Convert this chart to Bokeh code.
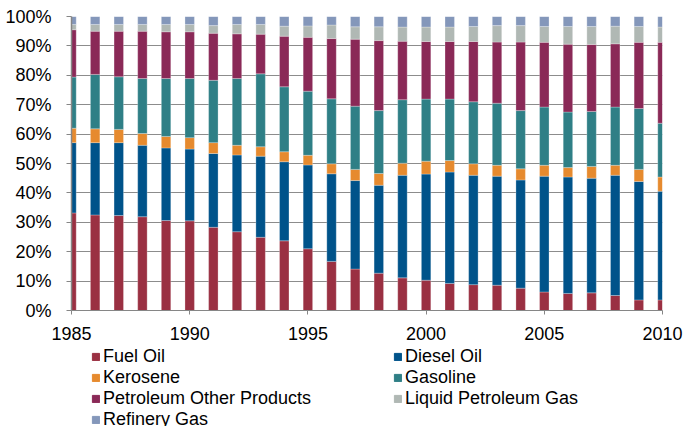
from bokeh.plotting import figure
from bokeh.layouts import column
from bokeh.models import (ColumnDataSource, Range1d, FixedTicker, NumeralTickFormatter,
                          Legend, LegendItem)
from bokeh.embed import file_html
from bokeh.resources import INLINE

years = list(range(1985, 2011))
tick_years = [1985, 1990, 1995, 2000, 2005, 2010]
tick_labels = ["1985", "1990", "1995", "2000", "2005", "2010"]

series_names = ["Fuel Oil", "Diesel Oil", "Kerosene", "Gasoline",
                "Petroleum Other Products", "Liquid Petroleum Gas", "Refinery Gas"]

fuel_oil = [33.2, 32.5, 32.3, 31.9, 30.6, 30.5, 28.3, 26.8, 24.9, 23.7, 21.0, 16.7, 14.1,
            12.7, 11.1, 10.3, 9.2, 8.8, 8.6, 7.6, 6.3, 5.8, 6.0, 5.1, 3.6, 3.6]
diesel_oil = [23.9, 24.6, 24.8, 24.3, 24.7, 24.4, 25.1, 26.1, 27.6, 26.9, 28.5, 29.8, 30.1,
              29.9, 34.9, 36.1, 37.9, 37.2, 37.1, 36.8, 39.4, 39.6, 39.0, 40.9, 40.3, 37.0]
kerosene = [4.9, 4.7, 4.5, 4.0, 3.9, 3.9, 3.7, 3.3, 3.2, 3.4, 3.3, 3.4, 3.8,
            4.0, 4.1, 4.4, 3.9, 3.9, 3.7, 3.8, 3.7, 3.2, 4.0, 3.4, 4.1, 4.8]
gasoline = [17.4, 18.5, 17.9, 18.7, 19.7, 20.1, 21.2, 22.7, 24.8, 22.1, 21.8, 22.1, 21.5,
            21.4, 21.6, 21.1, 20.9, 21.1, 21.1, 19.8, 19.8, 18.9, 18.7, 19.8, 20.7, 18.3]
other_products = [16.1, 14.7, 15.5, 16.1, 15.9, 15.9, 16.0, 15.2, 13.5, 17.2, 18.3, 20.5, 22.8,
                  23.8, 19.9, 19.6, 19.6, 20.5, 20.8, 23.3, 22.0, 23.1, 22.8, 21.5, 22.5, 27.5]
lpg = [1.8, 2.3, 2.3, 2.3, 2.5, 2.5, 2.6, 3.2, 3.3, 3.4, 3.9, 4.6, 4.2,
       4.7, 4.8, 4.9, 4.9, 5.1, 5.6, 5.6, 5.4, 6.0, 6.1, 6.0, 5.4, 5.2]
refinery_gas = [2.7, 2.7, 2.7, 2.7, 2.7, 2.7, 3.1, 2.7, 2.7, 3.3, 3.2, 2.9, 3.5,
                3.5, 3.6, 3.6, 3.6, 3.4, 3.1, 3.1, 3.4, 3.4, 3.4, 3.3, 3.4, 3.6]

colors = ["#9A3042", "#00538A", "#E68A2E", "#2F7F86", "#8A2957", "#B0B8B4", "#8497BA"]

series = [fuel_oil, diesel_oil, kerosene, gasoline, other_products, lpg, refinery_gas]
keys = ["s%d" % i for i in range(len(series))]
data = {"year": years}
for i, k in enumerate(keys):
    vals = []
    for j in range(len(years)):
        tot = sum(s[j] for s in series)
        vals.append(series[i][j] / tot)
    data[k] = vals
source = ColumnDataSource(data)

FONT = "Liberation Sans"

# ---- main chart ----
p = figure(width=684, height=347, output_backend="svg", toolbar_location=None,
           x_range=Range1d(1985, 2010), y_range=Range1d(0, 1),
           min_border_left=71, min_border_right=22, min_border_top=16, min_border_bottom=37)
p.outline_line_color = None

p.vbar_stack(keys, x="year", width=0.4, color=colors, source=source,
             line_color="white", line_width=0.6, line_alpha=0.45)

p.xgrid.grid_line_color = None
p.ygrid.grid_line_color = "#8c8c8c"
p.ygrid.grid_line_width = 1
p.ygrid.ticker = FixedTicker(ticks=[i / 10 for i in range(11)])

p.yaxis.ticker = FixedTicker(ticks=[i / 10 for i in range(11)])
p.yaxis.formatter = NumeralTickFormatter(format="0%")
p.xaxis.ticker = FixedTicker(ticks=tick_years)
p.xaxis.major_label_overrides = {y: l for y, l in zip(tick_years, tick_labels)}

for ax in (p.xaxis[0], p.yaxis[0]):
    ax.axis_line_color = "#868686"
    ax.major_tick_line_color = "#868686"
    ax.major_tick_in = 0
    ax.major_tick_out = 5
    ax.minor_tick_line_color = None
    ax.major_label_text_font = FONT
    ax.major_label_text_font_size = "18px"
    ax.major_label_text_color = "#000000"
p.yaxis.axis_line_width = 1.5
p.yaxis.major_label_standoff = 15
p.xaxis.major_tick_out = 4
p.xaxis.major_label_standoff = 12

# ---- legend strip (its own bars lie outside its y range, only the legend shows) ----
q = figure(width=684, height=79, output_backend="svg", toolbar_location=None,
           x_range=p.x_range, y_range=Range1d(5, 6),
           x_axis_location=None, y_axis_location=None, min_border=0)
q.outline_line_color = None
q.xgrid.grid_line_color = None
q.ygrid.grid_line_color = None
legend_renderers = q.vbar_stack(keys, x="year", width=0.4, color=colors, source=source)

order = [0, 2, 4, 6, 1, 3, 5]  # column-major fill -> rows read as in the reference
items = [LegendItem(label=series_names[i], renderers=[legend_renderers[i]]) for i in order]
leg = Legend(items=items, ncols=2, location=(20, -4))
leg.border_line_color = None
leg.background_fill_alpha = 0
leg.padding = 0
leg.margin = 0
leg.spacing = 0
leg.glyph_width = 9
leg.glyph_height = 9
leg.label_standoff = 3
leg.label_height = 20
leg.label_width = 290
leg.label_text_font = FONT
leg.label_text_font_size = "18px"
leg.label_text_color = "#000000"
q.add_layout(leg, "center")

layout = column(p, q, spacing=0)
open("out.html", "w").write(file_html(layout, INLINE))
